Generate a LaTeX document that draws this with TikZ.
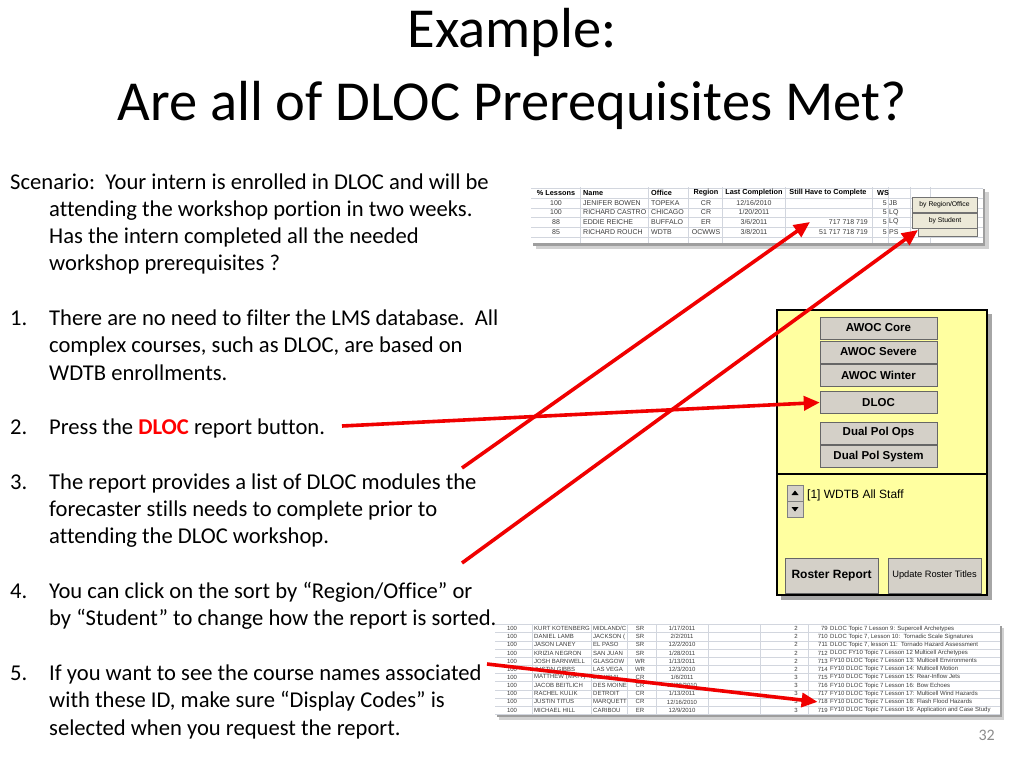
\documentclass[tikz,border=0pt]{standalone}
\usepackage{fontspec}
\setmainfont{Carlito}[Ligatures={TeX,NoCommon}]
\newfontfamily\uifont{Liberation Sans}
\usetikzlibrary{arrows.meta}
\definecolor{btngray}{RGB}{212,208,200}
\definecolor{btnlight}{RGB}{236,233,216}
\definecolor{panelyel}{RGB}{255,255,160}
\definecolor{gridcol}{RGB}{210,214,222}
\definecolor{celltxt}{RGB}{60,60,60}
\definecolor{pagenum}{RGB}{140,140,140}
\definecolor{arrred}{RGB}{240,0,0}
\tikzstyle{title}=[inner sep=0pt,anchor=base,font=\fontsize{56.5}{64}\selectfont]
\tikzstyle{body}=[inner sep=0pt,anchor=base west,font=\fontsize{22.6}{27.3}\selectfont]
\tikzstyle{hd}=[inner sep=0pt,font=\uifont\bfseries\fontsize{7.3}{8}\selectfont]
\tikzstyle{cell}=[inner sep=0pt,text=celltxt,font=\uifont\fontsize{7}{8}\selectfont]
\tikzstyle{tiny}=[inner sep=0pt,text=celltxt,font=\uifont\fontsize{6}{7}\selectfont]
\tikzstyle{smallbtn}=[draw=black!55,fill=btnlight,minimum width=65pt,minimum height=15pt,inner sep=0pt,font=\uifont\fontsize{6.8}{8}\selectfont]
\tikzstyle{panelbtn}=[draw=black!60,fill=btngray,minimum width=117pt,minimum height=22pt,inner sep=0pt,font=\uifont\bfseries\fontsize{11.5}{13}\selectfont]
\tikzstyle{spin}=[draw=black!50,fill=btngray,minimum width=16pt,minimum height=16pt,inner sep=0pt]
\tikzstyle{redarrow}=[draw=arrred,line width=3.6pt,-{Triangle[length=16pt,width=14pt]}]

\begin{document}
\begin{tikzpicture}[x=1pt,y=-1pt]
\useasboundingbox[fill=white] (0,0) rectangle (1024,768);
% title
\node[title] (tl1) at (512,48) {Example:};
\node[title] (tl2) at (512,120) {Are all of DLOC Prerequisites Met?};

% left text, one node a line
\node[body] (sc0) at (10,189) {Scenario:\ \ Your intern is enrolled in DLOC and will be};
\foreach \k/\txt in {1/{attending the workshop portion in two weeks.},
  2/{Has the intern completed all the needed},
  3/{workshop prerequisites ?},
  5/{There are no need to filter the LMS database.\ \ All},
  6/{complex courses, such as DLOC, are based on},
  7/{WDTB enrollments.},
  9/{Press the \textcolor{red}{\textbf{DLOC}} report button.},
  11/{The report provides a list of DLOC modules the},
  12/{forecaster stills needs to complete prior to},
  13/{attending the DLOC workshop.},
  15/{You can click on the sort by “Region/Office” or},
  16/{by “Student” to change how the report is sorted.},
  18/{If you want to see the course names associated},
  19/{with these ID, make sure “Display Codes” is},
  20/{selected when you request the report.}}
  \node[body] (ln\k) at (49,{189+27.3*\k}) {\txt};
\foreach \k/\n in {5/1,9/2,11/3,15/4,18/5}
  \node[body] (num\n) at (10,{189+27.3*\k}) {\n.};

% top report
\fill[black!18] (536,192) rectangle (989,249);
\fill[black!38] (533,189) rectangle (985,246);
\fill[white] (531,187) rectangle (983,243);
\foreach \yy in {188,198,208,217,227,237}
  \draw[gridcol] (531,\yy) -- (983,\yy);
\foreach \xx in {580,648,688,722,785,872,888,910,930}
  \draw[gridcol] (\xx,187) -- (\xx,243);
\node[hd] (hPct) at (556,193) {\% Lessons};
\node[hd,anchor=west] (hName) at (583,193) {Name};
\node[hd,anchor=west] (hOff) at (651,193) {Office};
\node[hd] (hReg) at (706,193) {Region};
\node[hd] (hLast) at (754,193) {Last Completion};
\node[hd] (hStill) at (828,193) {Still Have to Complete};
\node[hd,anchor=west] (hWs) at (877,193) {WS};
\foreach \pc/\nm/\of/\rg/\lc/\sh/\ini [count=\i] in {
  100/{JENIFER BOWEN}/TOPEKA/CR/{12/16/2010}/{}/JB,
  100/{RICHARD CASTRO}/CHICAGO/CR/{1/20/2011}/{}/LQ,
  88/{EDDIE REICHE}/BUFFALO/ER/{3/6/2011}/{717 718 719}/LQ,
  85/{RICHARD ROUCH}/WDTB/OCWWS/{3/8/2011}/{51 717 718 719}/PS}{
  \pgfmathsetmacro\yy{193+9.7*\i}
  \node[cell] (pc\i) at (556,\yy) {\pc};
  \node[cell,anchor=west] (nm\i) at (583,\yy) {\nm};
  \node[cell,anchor=west] (of\i) at (651,\yy) {\of};
  \node[cell] (rg\i) at (706,\yy) {\rg};
  \node[cell] (lc\i) at (754,\yy) {\lc};
  \node[cell,anchor=east] (sh\i) at (868,\yy) {\sh};
  \node[cell,anchor=east] (ws\i) at (887,\yy) {5};
  \node[cell,anchor=west] (in\i) at (889,\yy) {\ini};
}
\node[smallbtn,minimum width=59pt] (bHide) at (948,229) {};
\node[smallbtn] (bRegion) at (944.5,205) {by Region/Office};
\node[smallbtn] (bStudent) at (945,220.5) {by Student};

% yellow panel
\fill[black!35] (781,314) rectangle (992,600);
\draw[fill=panelyel,line width=1.1pt] (777,310) rectangle (987,595);
\draw[line width=1.1pt] (777,474) -- (987,474);
\foreach \lbl/\yc [count=\i] in {AWOC Core/328,AWOC Severe/352,AWOC Winter/375.5,DLOC/402.5,Dual Pol Ops/433,Dual Pol System/456.5}
  \node[panelbtn] (btn\i) at (878.5,\yc) {\lbl};
\node[spin] (up) at (795,493) {};
\node[spin] (down) at (795,509) {};
\fill (791.5,495) -- (798.5,495) -- (795,490.5) -- cycle;
\fill (791.5,507) -- (798.5,507) -- (795,511.5) -- cycle;
\node[inner sep=0pt,anchor=west,font=\uifont\fontsize{12}{14}\selectfont] (staff) at (807,495) {[1] WDTB All Staff};
\node[panelbtn,minimum width=93pt,minimum height=35pt,font=\uifont\bfseries\fontsize{12}{14}\selectfont] (roster) at (831.5,575.5) {Roster Report};
\node[panelbtn,minimum width=93pt,minimum height=35pt,font=\uifont\fontsize{9.3}{11}\selectfont] (update) at (934.5,575.5) {Update Roster Titles};

% bottom report
\fill[black!18] (499,628) rectangle (1004,720);
\fill[black!38] (497,626) rectangle (1002,717);
\fill[white] (495,624) rectangle (1000,714);
\foreach \j in {0,...,11}
  \draw[gridcol] (495,{624.5+8.15*\j}) -- (1000,{624.5+8.15*\j});
\foreach \xx in {532,591,627,656,708,760,808}
  \draw[gridcol] (\xx,624) -- (\xx,714);
\foreach \pc/\nm/\of/\rg/\dt/\ws/\id/\ds [count=\i] in {
  100/{KURT KOTENBERG}/{MIDLAND/C}/SR/{1/17/2011}/2/79/{DLOC Topic 7 Lesson 9: Supercell Archetypes},
  100/{DANIEL LAMB}/{JACKSON (}/SR/{2/2/2011}/2/710/{DLOC Topic 7, Lesson 10:\ \ Tornadic Scale Signatures},
  100/{JASON LANEY}/{EL PASO}/SR/{12/2/2010}/2/711/{DLOC Topic 7, lesson 11:\ \ Tornado Hazard Assessment},
  100/{KRIZIA NEGRON}/{SAN JUAN}/SR/{1/28/2011}/2/712/{DLOC FY10 Topic 7 Lesson 12 Multicell Archetypes},
  100/{JOSH BARNWELL}/GLASGOW/WR/{1/13/2011}/2/713/{FY10 DLOC Topic 7 Lesson 13: Multicell Environments},
  100/{JUSTIN GIBBS}/{LAS VEGA}/WR/{12/3/2010}/2/714/{FY10 DLOC Topic 7 Lesson 14: Multicell Motion},
  100/{MATTHEW (MATT)}/{LOUISVIL}/CR/{1/6/2011}/3/715/{FY10 DLOC Topic 7 Lesson 15: Rear-Inflow Jets},
  100/{JACOB BEITLICH}/{DES MOINE}/CR/{12/22/2010}/3/716/{FY10 DLOC Topic 7 Lesson 16: Bow Echoes},
  100/{RACHEL KULIK}/DETROIT/CR/{1/13/2011}/3/717/{FY10 DLOC Topic 7 Lesson 17: Multicell Wind Hazards},
  100/{JUSTIN TITUS}/MARQUETT/CR/{12/16/2010}/3/718/{FY10 DLOC Topic 7 Lesson 18: Flash Flood Hazards},
  100/{MICHAEL HILL}/CARIBOU/ER/{12/9/2010}/3/719/{FY10 DLOC Topic 7 Lesson 19: Application and Case Study}}{
  \pgfmathsetmacro\yy{628.5+8.15*(\i-1)}
  \node[tiny] (rp\i) at (512,\yy) {\pc};
  \node[tiny,anchor=west] (rn\i) at (534,\yy) {\nm};
  \node[tiny,anchor=west] (ro\i) at (593,\yy) {\of};
  \node[tiny] (rr\i) at (640,\yy) {\rg};
  \node[tiny] (rd\i) at (682,\yy) {\dt};
  \node[tiny] (rw\i) at (796,\yy) {\ws};
  \node[tiny,anchor=east] (id\i) at (828,\yy) {\id};
  \node[tiny,anchor=west] (ds\i) at (830,\yy) {\ds};
}

% arrows
\coordinate (p2) at (342,426);
\coordinate (p3a) at (462,468);
\coordinate (p3b) at (462,563);
\coordinate (p5) at (487,664);
\coordinate (tipA) at (810,222);
\coordinate (tipB) at (918,230);
\draw[redarrow] (p2) -- (btn4.west);
\draw[redarrow] (p3a) -- (tipA);
\draw[redarrow] (p3b) -- (tipB);
\draw[redarrow] (p5) -- (id10.west);

\node[inner sep=0pt,anchor=base east,text=pagenum,font=\fontsize{16}{18}\selectfont] (pg) at (995,740) {32};
\end{tikzpicture}
\end{document}
